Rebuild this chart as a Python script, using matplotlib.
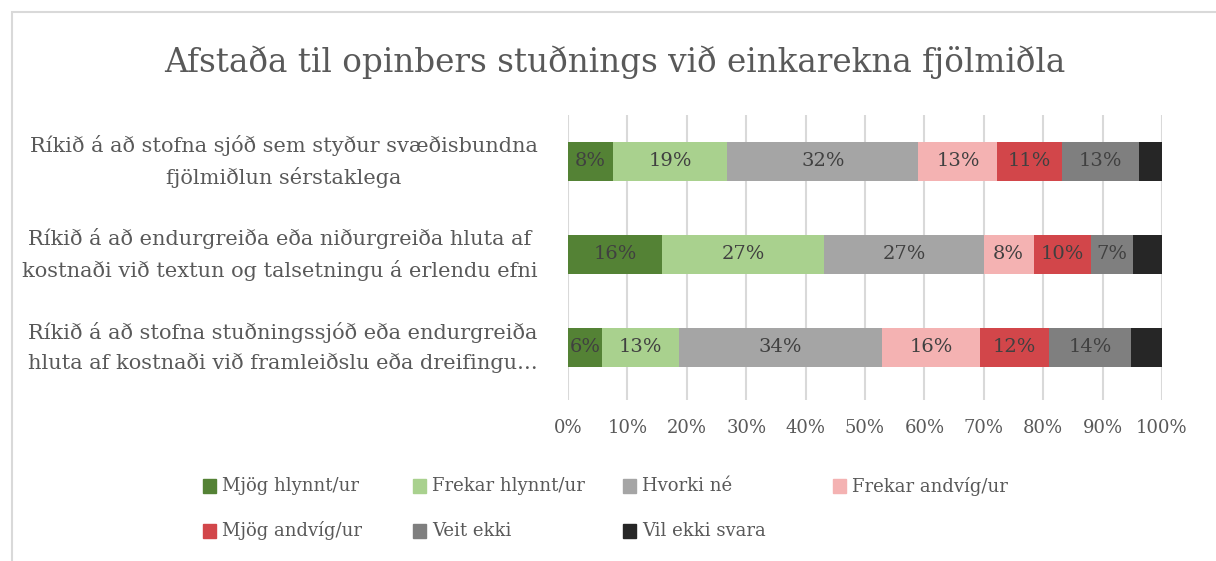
import matplotlib.pyplot as plt
from matplotlib.patches import Rectangle

# -------------------------------
# Data
# -------------------------------
TITLE = "Afstaða til opinbers stuðnings við einkarekna fjölmiðla"
categories = [
    "Ríkið á að stofna sjóð sem styður svæðisbundna\nfjölmiðlun sérstaklega",
    "Ríkið á að endurgreiða eða niðurgreiða hluta af\nkostnaði við textun og talsetningu á erlendu efni",
    "Ríkið á að stofna stuðningssjóð eða endurgreiða\nhluta af kostnaði við framleiðslu eða dreifingu…",
]
series_names = ["Mjög hlynnt/ur", "Frekar hlynnt/ur", "Hvorki né", "Frekar andvíg/ur",
                "Mjög andvíg/ur", "Veit ekki", "Vil ekki svara"]
mjog_hlynnt = [7.6, 15.8, 5.8]
frekar_hlynnt = [19.2, 27.3, 12.9]
hvorki = [32.2, 26.9, 34.2]
frekar_andvig = [13.3, 8.4, 16.4]
mjog_andvig = [10.8, 9.6, 11.7]
veit_ekki = [13.1, 7.2, 13.7]
vil_ekki = [3.8, 4.8, 5.3]
series = [mjog_hlynnt, frekar_hlynnt, hvorki, frekar_andvig, mjog_andvig, veit_ekki, vil_ekki]
colors = ["#548235", "#A9D18E", "#A5A5A5", "#F4B2B2", "#D2464A", "#7F7F7F", "#262626"]
x_ticks = list(range(0, 101, 10))

FONT = "DejaVu Serif"
TXT = "#595959"


def main():
    plt.rcParams['font.family'] = FONT
    fig = plt.figure(figsize=(12.16, 5.61), dpi=100)

    # chart border
    fig.patches.append(Rectangle((12 / 1216, -0.1), 1.2, 1 - 12 / 561 + 0.1,
                                 transform=fig.transFigure, fill=False,
                                 edgecolor="#D9D9D9", lw=1.5))

    ax = fig.add_axes([568 / 1216, 1 - 400 / 561, 594 / 1216, 285 / 561])
    y = list(range(len(categories)))
    left = [0.0] * len(categories)
    for i, vals in enumerate(series):
        bars = ax.barh(y, vals, left=left, height=0.41, color=colors[i], zorder=3)
        if i < len(series) - 1:
            labels = [f"{round(v)}%" for v in vals]
            ax.bar_label(bars, labels=labels, label_type="center",
                         fontsize=14, color="#404040")
        left = [l + v for l, v in zip(left, vals)]

    ax.set_xlim(0, 100)
    ax.set_ylim(2.565, -0.5)
    ax.set_xticks(x_ticks)
    ax.set_xticklabels([f"{t}%" for t in x_ticks], fontsize=13, color=TXT)
    ax.set_yticks(y)
    ax.set_yticklabels(categories, fontsize=15, color=TXT, multialignment="center",
                       linespacing=1.65, va="center")
    ax.tick_params(length=0, axis="x", pad=14)
    ax.tick_params(length=0, axis="y", pad=22)
    ax.grid(axis="x", color="#D9D9D9", lw=1.5, zorder=0)
    for s in ax.spines.values():
        s.set_visible(False)

    fig.text(615 / 1216, 1 - 62 / 561, TITLE, ha="center", va="center",
             fontsize=23.5, color=TXT)

    # legend, laid out like the original (4 per row, fixed column width)
    for i, name in enumerate(series_names):
        col, row = i % 4, i // 4
        x0 = 203 + col * 210
        yc = 486 + row * 45
        fig.patches.append(Rectangle((x0 / 1216, 1 - (yc + 7) / 561), 13 / 1216, 14 / 561,
                                     transform=fig.transFigure, color=colors[i]))
        fig.text((x0 + 19) / 1216, 1 - yc / 561, name, ha="left", va="center",
                 fontsize=13, color=TXT)

    fig.savefig("out.png", dpi=100)


if __name__ == "__main__":
    main()
